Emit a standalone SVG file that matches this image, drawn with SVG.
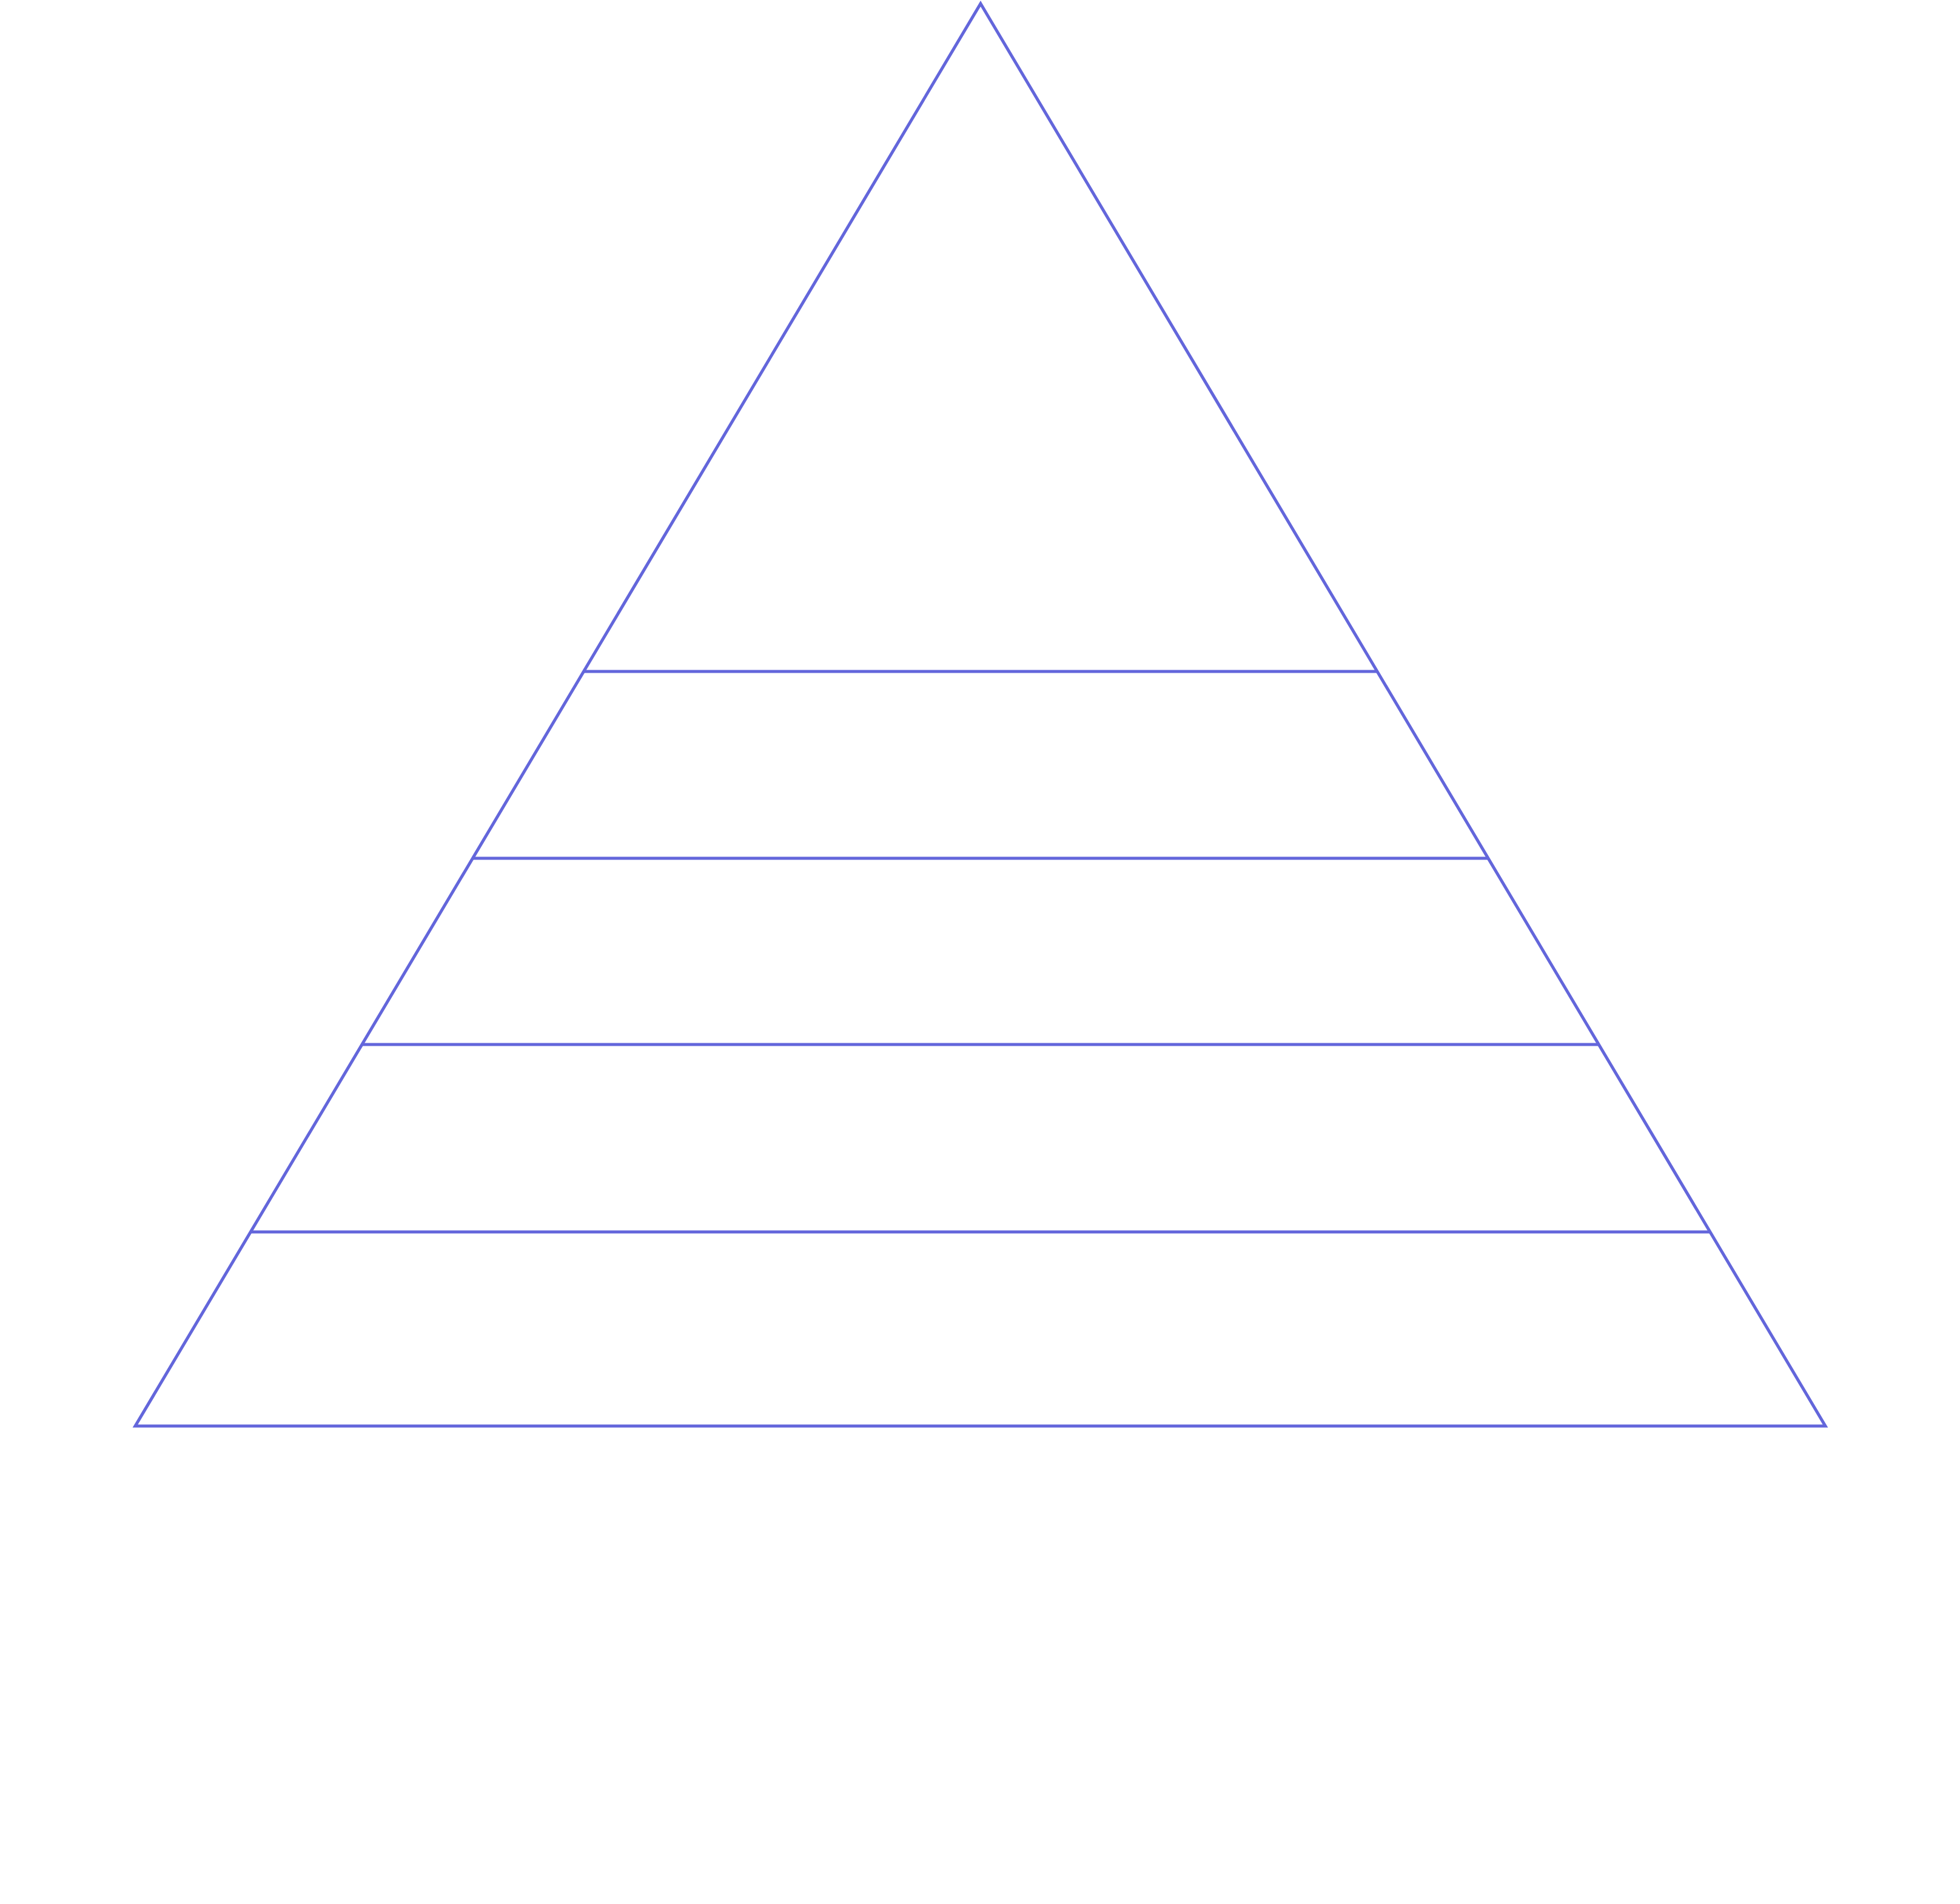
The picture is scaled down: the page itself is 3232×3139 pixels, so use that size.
<svg xmlns="http://www.w3.org/2000/svg" width="3232" height="3139" viewBox="0 0 3232 3139">
<style>
.ln{stroke:#6366DB;stroke-width:5;fill:none;stroke-linejoin:miter}
.t{font-family:"Liberation Sans",Arial,sans-serif;font-size:88px;fill:#ffffff;text-anchor:middle}
</style>
<rect width="3232" height="3139" fill="#ffffff"/>
<g id="pyramid">
<polygon class="ln" points="1617,6 3010,2351 223,2351"/>
</g>
<g id="connectors">
<line class="ln" x1="962" y1="1107" x2="2272" y2="1107"/>
<line class="ln" x1="779" y1="1415" x2="2455" y2="1415"/>
<line class="ln" x1="597" y1="1722" x2="2637" y2="1722"/>
<line class="ln" x1="413" y1="2031" x2="2821" y2="2031"/>
</g>
<g id="tier1"><text class="t" x="1617" y="855">SELF-</text><text class="t" x="1617" y="950">ACTUALIZATION</text></g>
<g id="tier2"><text class="t" x="1617" y="1248">ESTEEM</text><text class="t" x="1617" y="1342" font-style="italic">NEEDS</text></g>
<g id="tier3"><text class="t" x="1617" y="1602">LOVE AND BELONGING</text></g>
<g id="tier4"><text class="t" x="1617" y="1910">SAFETY NEEDS</text></g>
<g id="tier5"><text class="t" x="1617" y="2226">PHYSIOLOGICAL NEEDS</text></g>
</svg>
